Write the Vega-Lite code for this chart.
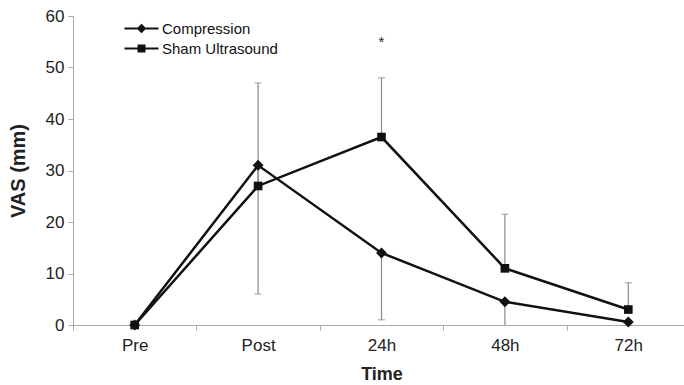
{
  "$schema": "https://vega.github.io/schema/vega-lite/v6.json",
  "width": 611,
  "height": 309,
  "autosize": {"type": "none"},
  "padding": {"left": 73, "top": 16, "right": 0, "bottom": 60},
  "background": "white",
  "config": {
    "view": {"stroke": null},
    "font": "Liberation Sans",
    "axis": {
      "grid": false,
      "domainColor": "#aaaaaa",
      "tickColor": "#aaaaaa",
      "tickSize": 5,
      "labelFont": "Liberation Sans",
      "labelFontSize": 17,
      "labelColor": "#222222",
      "titleFont": "Liberation Sans",
      "titleFontWeight": "bold",
      "titleColor": "#222222"
    }
  },
  "datasets": {
    "vas": [
      {"time": "Pre", "series": "Compression", "vas": 0, "err": null},
      {"time": "Post", "series": "Compression", "vas": 31, "err": 6},
      {"time": "24h", "series": "Compression", "vas": 14, "err": 1},
      {"time": "48h", "series": "Compression", "vas": 4.5, "err": 0},
      {"time": "72h", "series": "Compression", "vas": 0.6, "err": null},
      {"time": "Pre", "series": "Sham Ultrasound", "vas": 0, "err": null},
      {"time": "Post", "series": "Sham Ultrasound", "vas": 27, "err": 47},
      {"time": "24h", "series": "Sham Ultrasound", "vas": 36.5, "err": 48},
      {"time": "48h", "series": "Sham Ultrasound", "vas": 11, "err": 21.5},
      {"time": "72h", "series": "Sham Ultrasound", "vas": 3, "err": 8.2}
    ],
    "notes": [
      {"time": "24h", "y": 55, "label": "*"}
    ]
  },
  "resolve": {"scale": {"shape": "independent"}},
  "layer": [
    {
      "data": {"name": "vas"},
      "transform": [{"filter": "datum.err != null"}],
      "mark": {"type": "rule", "color": "#8a8a8a", "strokeWidth": 1.2},
      "encoding": {
        "x": {"field": "time", "type": "nominal", "scale": {"domain": ["Pre", "Post", "24h", "48h", "72h"], "paddingInner": 0, "paddingOuter": 0, "range": [0, 617]},
              "axis": {"title": "Time", "titleFontSize": 18, "labelAngle": 0, "tickBand": "extent", "labelPadding": 7, "titlePadding": 12}},
        "y": {"field": "vas", "type": "quantitative", "scale": {"domain": [0, 60], "nice": false},
              "axis": {"title": "VAS (mm)", "titleFontSize": 20, "values": [0, 10, 20, 30, 40, 50, 60], "labelPadding": 4, "titlePadding": 17}},
        "y2": {"field": "err"}
      }
    },
    {
      "data": {"name": "vas"},
      "transform": [{"filter": "datum.err != null && datum.err > 0"}],
      "mark": {"type": "tick", "color": "#8a8a8a", "thickness": 1.2, "size": 7},
      "encoding": {
        "x": {"field": "time", "type": "nominal"},
        "y": {"field": "err", "type": "quantitative"}
      }
    },
    {
      "data": {"name": "vas"},
      "mark": {"type": "line", "color": "#111111", "strokeWidth": 2.5},
      "encoding": {
        "x": {"field": "time", "type": "nominal"},
        "y": {"field": "vas", "type": "quantitative"},
        "detail": {"field": "series"}
      }
    },
    {
      "data": {"name": "vas"},
      "mark": {"type": "point", "filled": true, "color": "#111111", "opacity": 1},
      "encoding": {
        "x": {"field": "time", "type": "nominal"},
        "y": {"field": "vas", "type": "quantitative"},
        "shape": {"field": "series", "type": "nominal", "scale": {"domain": ["Compression", "Sham Ultrasound"], "range": ["diamond", "square"]}, "legend": null},
        "size": {"field": "series", "type": "nominal", "scale": {"domain": ["Compression", "Sham Ultrasound"], "range": [120, 75]}, "legend": null}
      }
    },
    {
      "data": {"name": "vas"},
      "transform": [{"filter": "false"}],
      "mark": {"type": "point", "filled": true, "color": "#111111", "opacity": 1, "size": 64},
      "encoding": {
        "x": {"field": "time", "type": "nominal"},
        "y": {"field": "vas", "type": "quantitative"},
        "shape": {"field": "series", "type": "nominal",
                  "scale": {"domain": ["Compression", "Sham Ultrasound"], "range": ["M-4.25,-0.25H4.25V0.25H-4.25ZM0,-1.2L1.2,0L0,1.2L-1.2,0Z", "M-4.25,-0.25H4.25V0.25H-4.25ZM-1,-1H1V1H-1Z"]},
                  "legend": {"title": null, "orient": "none", "legendX": 61, "legendY": 5, "symbolSize": 64, "symbolFillColor": "#111111", "symbolStrokeColor": "#111111", "symbolStrokeWidth": 0, "symbolOpacity": 1, "labelOffset": 13, "labelFont": "Liberation Sans", "labelFontSize": 15, "labelColor": "#111111", "rowPadding": 4, "padding": 0}}
      }
    },
    {
      "data": {"name": "notes"},
      "mark": {"type": "text", "fontSize": 15, "color": "#222222", "font": "Liberation Sans"},
      "encoding": {
        "x": {"field": "time", "type": "nominal"},
        "y": {"field": "y", "type": "quantitative"},
        "text": {"field": "label"}
      }
    }
  ]
}
